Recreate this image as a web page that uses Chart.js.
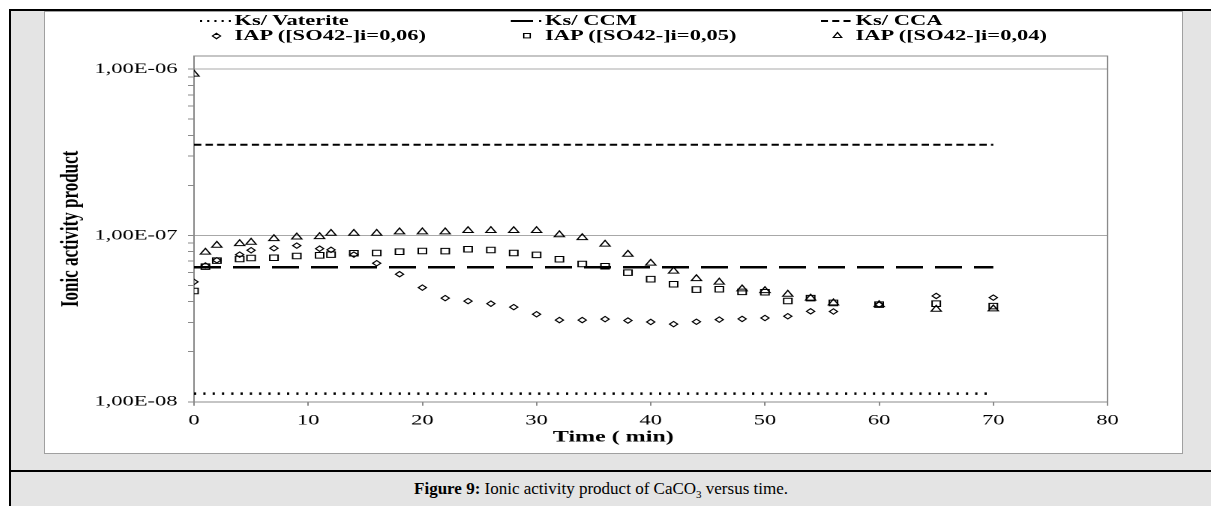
<!DOCTYPE html>
<html>
<head>
<meta charset="utf-8">
<script src="https://cdn.jsdelivr.net/npm/chart.js@4.4.1/dist/chart.umd.min.js"></script>
<style>
  html, body { margin:0; padding:0; background:#fff; }
  body { width:1211px; height:506px; overflow:hidden; position:relative; font-family:"Liberation Serif","Times New Roman",serif; }
  #frame { position:absolute; left:9px; top:9px; width:1210px; height:520px; border:2px solid #000; background:#e4e4e4; box-sizing:border-box; }
  #box { position:absolute; left:44px; top:11px; width:1139px; height:443px; background:#fff; border:1px solid #a0a0a0; box-sizing:border-box; }
  #stretch { position:absolute; left:44px; top:12px; width:759px; height:442px; transform:scaleX(1.5); transform-origin:0 0; }
  #stretch canvas { position:absolute; left:0; top:0; }
  #legend { position:absolute; left:0; top:0; width:759px; height:40px; pointer-events:none; font:bold 15px "Liberation Serif","Times New Roman",serif; color:#000; }
  .lg { position:absolute; white-space:nowrap; line-height:15px; height:15px; }
  .lg svg { position:absolute; top:0; }
  .lg span { position:absolute; top:0; }
  #rule { position:absolute; left:9px; top:470px; width:1202px; height:2px; background:#000; }
  #caption { position:absolute; left:9px; top:479px; width:1184px; text-align:center; font-size:17px; line-height:20px; color:#000; }
  #caption sub { font-size:11px; line-height:0; }
</style>
</head>
<body>
<div id="frame"></div>
<div id="box"></div>
<div id="stretch">
  <canvas id="c" width="759" height="442"></canvas>
  <div id="legend"></div>
</div>
<div id="rule"></div>
<div id="caption"><b>Figure 9:</b> Ionic activity product of CaCO<sub>3</sub> versus time.</div>
<script>
// sampling times (min)
const times = [0, 1, 2, 4, 5, 7, 9, 11, 12, 14, 16, 18, 20, 22, 24, 26, 28, 30, 32, 34,
               36, 38, 40, 42, 44, 46, 48, 50, 52, 54, 56, 60, 65, 70];

// IAP, [SO42-]i = 0,06
const iap06 = [5.26e-8, 6.6e-8, 7.1e-8, 7.67e-8, 8.15e-8, 8.38e-8, 8.69e-8, 8.33e-8, 8.2e-8, 7.67e-8,
               6.81e-8, 5.85e-8, 4.86e-8, 4.2e-8, 4.03e-8, 3.89e-8, 3.71e-8, 3.36e-8, 3.1e-8, 3.1e-8,
               3.14e-8, 3.08e-8, 3.02e-8, 2.93e-8, 3.03e-8, 3.12e-8, 3.15e-8, 3.19e-8, 3.27e-8, 3.5e-8,
               3.49e-8, 3.84e-8, 4.33e-8, 4.23e-8];

// IAP, [SO42-]i = 0,05
const iap05 = [4.64e-8, 6.5e-8, 7.06e-8, 7.22e-8, 7.32e-8, 7.35e-8, 7.53e-8, 7.6e-8, 7.67e-8, 7.82e-8,
               7.85e-8, 7.99e-8, 8.07e-8, 8.05e-8, 8.26e-8, 8.18e-8, 7.85e-8, 7.64e-8, 7.2e-8, 6.74e-8,
               6.53e-8, 5.98e-8, 5.46e-8, 5.09e-8, 4.73e-8, 4.75e-8, 4.58e-8, 4.56e-8, 4.04e-8, 4.2e-8,
               3.93e-8, 3.84e-8, 3.89e-8, 3.76e-8];

// IAP, [SO42-]i = 0,04
const iap04 = [9.33e-7, 7.93e-8, 8.73e-8, 8.93e-8, 9.1e-8, 9.57e-8, 9.79e-8, 9.84e-8, 1.03e-7, 1.03e-7,
               1.03e-7, 1.05e-7, 1.05e-7, 1.05e-7, 1.07e-7, 1.07e-7, 1.07e-7, 1.07e-7, 1.01e-7, 9.7e-8,
               8.86e-8, 7.71e-8, 6.81e-8, 6.1e-8, 5.5e-8, 5.24e-8, 4.77e-8, 4.66e-8, 4.43e-8, 4.2e-8,
               3.93e-8, 3.84e-8, 3.6e-8, 3.62e-8];

// solubility products (constant lines)
const ksSpan = [0, 70];
const ksVaterite = 1.12e-8;
const ksCCM = 6.44e-8;
const ksCCA = 3.51e-7;

// axes
const xTicks = [0, 10, 20, 30, 40, 50, 60, 70, 80];
const yMajor = [1e-8, 1e-7, 1e-6];
const yMajorLabels = ["1,00E-08", "1,00E-07", "1,00E-06"];
const yMinorMantissa = [2, 3, 4, 5, 6, 7, 8, 9];
const yMin = 1e-8, yMax = 1.2e-6;

const legendLabels = ["Ks/ Vaterite", "Ks/ CCM", "Ks/ CCA",
                      "IAP ([SO42-]i=0,06)", "IAP ([SO42-]i=0,05)", "IAP ([SO42-]i=0,04)"];

(function(){
  const el = (id)=>document.getElementById(id);
  const pts = (ys)=>times.map((t,i)=>({x:t, y:ys[i]}));
  const flat = (v)=>ksSpan.map((t)=>({x:t, y:v}));

  const axisGrey = "#8a8a8a";
  const gridGrey = "#a8a8a8";

  const yTickValues = [];
  yMajor.forEach((m)=>{
    yTickValues.push(m);
    yMinorMantissa.forEach((k)=>{ if (m*k <= yMax) yTickValues.push(m*k); });
  });

  Chart.defaults.font.family = '"Liberation Serif", "Times New Roman", serif';
  Chart.defaults.color = "#000";

  const lineDs = (label, v, dash, width)=>({
    type: "line", label, data: flat(v),
    borderColor: "#000", borderWidth: width, borderDash: dash,
    pointRadius: 0, fill: false, showLine: true
  });
  const markDs = (label, ys, style, r)=>({
    type: "scatter", label, data: pts(ys),
    pointStyle: style, pointRadius: r, pointBorderWidth: 1,
    pointBorderColor: "#000", pointBackgroundColor: "rgba(0,0,0,0)", showLine: false
  });

  const datasets = [
    lineDs(legendLabels[0], ksVaterite, [1.5, 4.7], 2.5),
    lineDs(legendLabels[1], ksCCM, [18, 8], 2.5),
    lineDs(legendLabels[2], ksCCA, [4.9, 2.8], 2),
    markDs(legendLabels[3], iap06, "rectRot", 2.7),
    markDs(legendLabels[4], iap05, "rect", 3.9),
    markDs(legendLabels[5], iap04, "triangle", 3.9)
  ];

  new Chart(el("c"), {
    type: "scatter",
    data: { datasets },
    options: {
      responsive: false,
      devicePixelRatio: 2,
      animation: false,
      layout: { padding: { top: 0, left: 0, right: 0, bottom: 7 } },
      plugins: {
        legend: { display: false },
        tooltip: { enabled: false },
        title: {
          display: true, position: "bottom", text: "Time ( min)",
          font: { size: 16, weight: "bold" }, padding: { top: 0, bottom: 0 }, color: "#000"
        }
      },
      scales: {
        x: {
          type: "linear", position: "bottom", min: 0, max: 80,
          afterBuildTicks: (s)=>{ s.ticks = xTicks.map((v)=>({value:v})); },
          afterFit: (s)=>{ s.height = 26; },
          ticks: { font: { size: 15 }, padding: 6, color: "#000", maxRotation: 0 },
          grid: { drawOnChartArea: false, tickLength: 4, tickColor: axisGrey },
          border: { color: axisGrey, width: 1 }
        },
        x2: {
          type: "linear", position: "top", min: 0, max: 80,
          afterFit: (s)=>{ s.height = 44; },
          ticks: { display: false },
          grid: { display: false },
          border: { display: true, color: axisGrey, width: 1 }
        },
        y: {
          type: "logarithmic", position: "left", min: yMin, max: yMax,
          afterBuildTicks: (s)=>{ s.ticks = yTickValues.map((v)=>({value:v})); },
          afterFit: (s)=>{ s.width = 100; },
          ticks: {
            autoSkip: false, font: { size: 15 }, padding: 7, color: "#000",
            callback: (v)=>{ const i = yMajor.indexOf(v); return i >= 0 ? yMajorLabels[i] : ""; }
          },
          grid: {
            tickLength: 4, tickColor: axisGrey,
            color: (ctx)=> (ctx.tick && yMajor.includes(ctx.tick.value)) ? gridGrey : "rgba(0,0,0,0)"
          },
          border: { color: axisGrey, width: 1 },
          title: {
            display: true, text: "Ionic activity product",
            font: { size: 17, weight: "bold" }, padding: { top: 8, bottom: 0 }, color: "#000"
          }
        },
        y2: {
          type: "linear", position: "right", min: 0, max: 1,
          afterFit: (s)=>{ s.width = 50; },
          ticks: { display: false },
          grid: { display: false },
          border: { display: true, color: axisGrey, width: 1 }
        }
      }
    }
  });

  // legend: 3 columns x 2 rows, like the spreadsheet original
  const colSym = [104, 311, 518];
  const colText = [127, 334, 541];
  const rowTop = [1, 16];
  const symbols = [
    '<svg width="22" height="15"><line x1="0" y1="8" x2="21" y2="8" stroke="#000" stroke-width="2.2" stroke-dasharray="1.4 3.4"/></svg>',
    '<svg width="22" height="15"><line x1="0" y1="8" x2="15" y2="8" stroke="#000" stroke-width="2"/><line x1="19" y1="8" x2="20.5" y2="8" stroke="#000" stroke-width="2"/></svg>',
    '<svg width="22" height="15"><line x1="0" y1="8" x2="21" y2="8" stroke="#000" stroke-width="2" stroke-dasharray="4.7 2.8"/></svg>',
    '<svg width="22" height="15"><polygon points="11,5.3 13.7,8 11,10.7 8.3,8" fill="none" stroke="#000" stroke-width="1"/></svg>',
    '<svg width="22" height="15"><rect x="8.8" y="5.5" width="4.4" height="4.4" fill="none" stroke="#000" stroke-width="1"/></svg>',
    '<svg width="22" height="15"><polygon points="11,4.6 13.8,9.6 8.2,9.6" fill="none" stroke="#000" stroke-width="1"/></svg>'
  ];
  const lg = el("legend");
  legendLabels.forEach((label, i)=>{
    const c = i % 3, r = Math.floor(i / 3);
    const d = document.createElement("div");
    d.className = "lg";
    d.style.left = colSym[c] + "px";
    d.style.top = rowTop[r] + "px";
    d.innerHTML = symbols[i] + '<span style="left:' + (colText[c] - colSym[c]) + 'px">' + label + '</span>';
    lg.appendChild(d);
  });
})();
</script>
</body>
</html>
